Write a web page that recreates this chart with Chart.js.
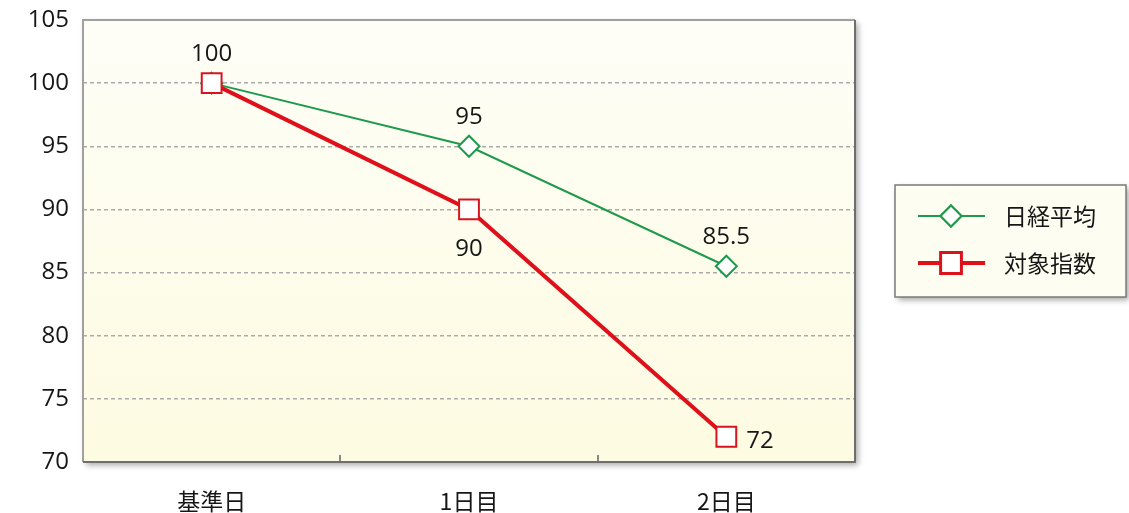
<!DOCTYPE html>
<html>
<head>
<meta charset="utf-8">
<script src="https://cdn.jsdelivr.net/npm/chart.js@4/dist/chart.umd.min.js"></script>
<style>
  html, body { margin: 0; padding: 0; background: #fff; }
  #wrap { width: 1129px; height: 513px; }
</style>
</head>
<body>
<div id="wrap"><canvas id="myChart" width="1129" height="513"></canvas></div>
<script>
var categories = ['基準日', '1日目', '2日目'];
var nikkeiValues = [100, 95, 85.5];
var targetValues = [100, 90, 72];
var nikkeiName = '日経平均';
var targetName = '対象指数';

var NUMFONT = '"Open Sans", "Noto Sans", sans-serif';
var JPFONT = '"Noto Sans CJK JP", "Noto Sans", sans-serif';

// label placement per point: where the value is drawn
var nikkeiLabelPos = ['none', 'top', 'top'];
var targetLabelPos = ['top', 'bottom', 'right'];

var plotFrame = {
    id: 'plotFrame',
    beforeDraw: function (chart) {
        var c = chart.ctx, a = chart.chartArea;
        c.save();
        c.shadowColor = 'rgba(0,0,0,0.35)';
        c.shadowBlur = 6;
        c.shadowOffsetX = 3;
        c.shadowOffsetY = 3;
        var g = c.createLinearGradient(0, a.top, 0, a.bottom);
        g.addColorStop(0, '#fefef7');
        g.addColorStop(1, '#fdfbe1');
        c.fillStyle = g;
        c.fillRect(a.left, a.top, a.right - a.left, a.bottom - a.top);
        c.restore();
    },
    beforeDatasetsDraw: function (chart) {
        var c = chart.ctx, a = chart.chartArea, x = chart.scales.x;
        c.save();
        // inner tick marks between categories
        c.strokeStyle = '#888';
        c.lineWidth = 2;
        for (var i = 0; i < categories.length - 1; i++) {
            var px = Math.round((x.getPixelForTick(i) + x.getPixelForTick(i + 1)) / 2);
            c.beginPath();
            c.moveTo(px, a.bottom);
            c.lineTo(px, a.bottom - 7);
            c.stroke();
        }
        // frame
        c.lineWidth = 2;
        c.strokeStyle = '#a0a0a0';
        c.beginPath();
        c.moveTo(a.left, a.bottom);
        c.lineTo(a.left, a.top);
        c.lineTo(a.right, a.top);
        c.stroke();
        c.strokeStyle = '#6e6e6e';
        c.beginPath();
        c.moveTo(a.right, a.top);
        c.lineTo(a.right, a.bottom);
        c.lineTo(a.left, a.bottom);
        c.stroke();
        c.restore();
    }
};

var valueLabels = {
    id: 'valueLabels',
    afterDatasetsDraw: function (chart) {
        var c = chart.ctx;
        var posSets = [nikkeiLabelPos, targetLabelPos];
        c.save();
        c.font = '24px ' + NUMFONT;
        c.fillStyle = '#161616';
        c.textBaseline = 'alphabetic';
        chart.data.datasets.forEach(function (ds, di) {
            var meta = chart.getDatasetMeta(di);
            meta.data.forEach(function (pt, i) {
                var pos = posSets[di][i];
                if (pos === 'none') return;
                var txt = String(ds.data[i]);
                if (pos === 'top') {
                    c.textAlign = 'center';
                    c.fillText(txt, pt.x, pt.y - 22);
                } else if (pos === 'bottom') {
                    c.textAlign = 'center';
                    c.fillText(txt, pt.x, pt.y + 47);
                } else {
                    c.textAlign = 'left';
                    c.fillText(txt, pt.x + 20, pt.y + 11);
                }
            });
        });
        c.restore();
    }
};

var boxLegend = {
    id: 'boxLegend',
    afterDraw: function (chart) {
        var c = chart.ctx;
        var bx = 895, by = 185, bw = 231, bh = 112;
        c.save();
        c.shadowColor = 'rgba(0,0,0,0.35)';
        c.shadowBlur = 6;
        c.shadowOffsetX = 3;
        c.shadowOffsetY = 3;
        c.fillStyle = '#fdfdf1';
        c.fillRect(bx, by, bw, bh);
        c.restore();
        c.save();
        c.strokeStyle = '#7a7a7a';
        c.lineWidth = 1.5;
        c.strokeRect(bx, by, bw, bh);
        var rows = [216, 263];
        chart.data.datasets.forEach(function (ds, i) {
            var y = rows[i];
            c.strokeStyle = ds.borderColor;
            c.lineWidth = ds.borderWidth;
            c.beginPath();
            c.moveTo(918, y);
            c.lineTo(985, y);
            c.stroke();
            Chart.helpers.drawPoint(c, {
                pointStyle: ds.pointStyle,
                radius: ds.pointRadius,
                borderWidth: ds.pointBorderWidth,
                rotation: 0
            }, 951, y);
            c.fillStyle = ds.pointBackgroundColor;
            c.strokeStyle = ds.pointBorderColor;
            c.lineWidth = ds.pointBorderWidth;
            c.fill();
            c.stroke();
            c.fillStyle = '#161616';
            c.font = '23px ' + JPFONT;
            c.textAlign = 'left';
            c.textBaseline = 'middle';
            c.fillText(ds.label, 1004, y);
        });
        c.restore();
    }
};

var ctx = document.getElementById('myChart').getContext('2d');

var myChart = new Chart(ctx, {
    type: 'line',
    data: {
        labels: categories,
        datasets: [{
            label: nikkeiName,
            data: nikkeiValues,
            order: 1,
            borderColor: '#1e9a4c',
            borderWidth: 2,
            pointStyle: 'rectRot',
            pointRadius: 10.5,
            pointHoverRadius: 10.5,
            pointBorderWidth: 2,
            pointBackgroundColor: '#ffffff',
            pointBorderColor: '#1e9a4c',
            tension: 0
        }, {
            label: targetName,
            data: targetValues,
            order: 0,
            borderColor: '#e0101a',
            borderWidth: 4,
            pointStyle: 'rect',
            pointRadius: 14,
            pointHoverRadius: 14,
            pointBorderWidth: 2,
            pointBackgroundColor: '#ffffff',
            pointBorderColor: '#d8141e',
            tension: 0
        }]
    },
    options: {
        responsive: false,
        animation: false,
        layout: { padding: { top: 20, right: 274, left: 0, bottom: 0 } },
        plugins: {
            legend: { display: false },
            tooltip: { enabled: false }
        },
        scales: {
            x: {
                offset: true,
                grid: { display: false },
                border: { display: false },
                ticks: { color: '#161616', font: { family: JPFONT, size: 23 }, padding: 17 },
                afterFit: function (s) { s.height = 51; s.paddingLeft = 0; s.paddingRight = 0; }
            },
            y: {
                min: 70,
                max: 105,
                ticks: { stepSize: 5, color: '#161616', font: { family: NUMFONT, size: 24 }, padding: 14 },
                grid: {
                    drawTicks: false,
                    lineWidth: 1.5,
                    color: function (c) {
                        var v = c.tick && c.tick.value;
                        return (v === 70 || v === 105) ? 'rgba(0,0,0,0)' : '#ababab';
                    }
                },
                border: { display: false, dash: [4, 3] },
                afterFit: function (s) { s.width = 83; s.paddingTop = 0; s.paddingBottom = 0; }
            }
        }
    },
    plugins: [plotFrame, valueLabels, boxLegend]
});
</script>
</body>
</html>
